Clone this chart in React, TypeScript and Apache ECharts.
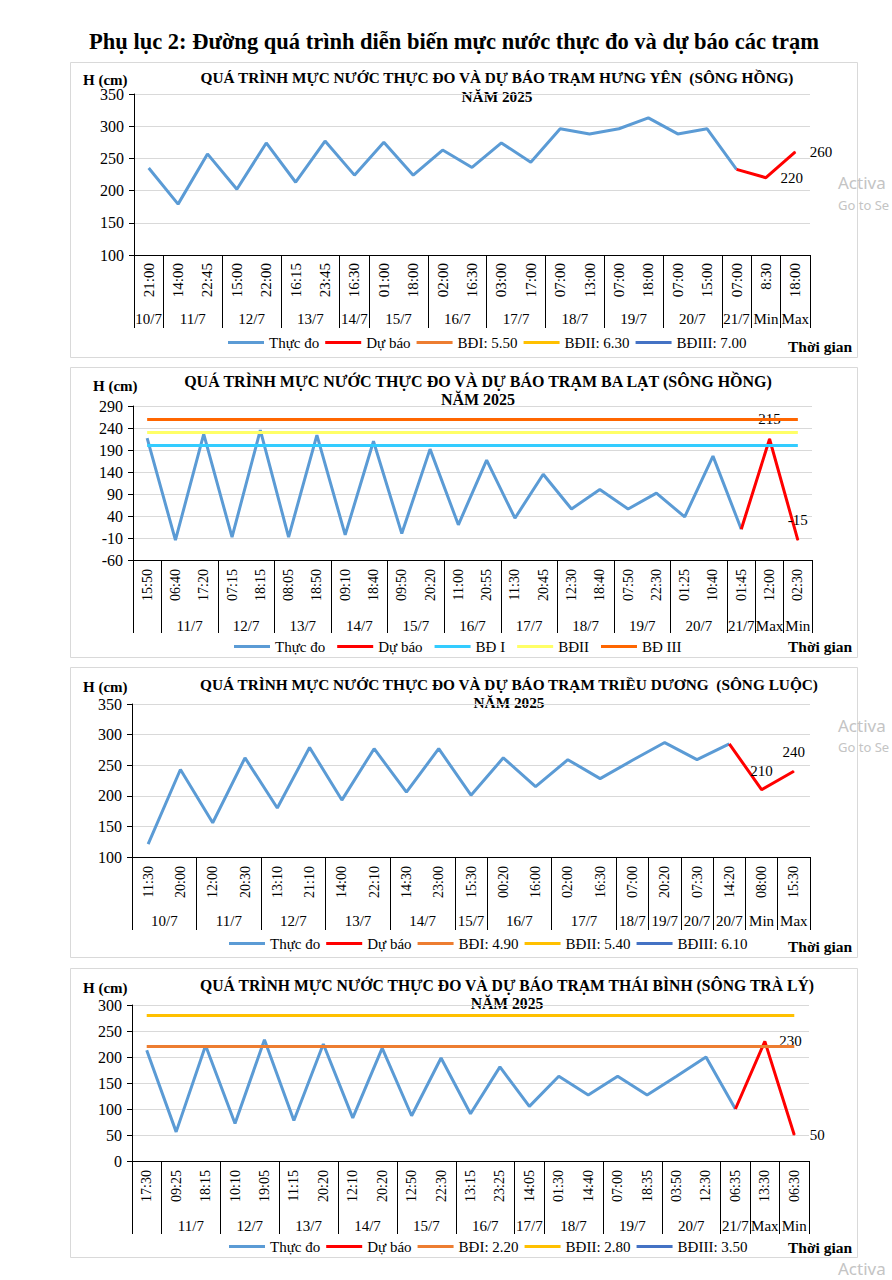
import React, { useEffect, useRef } from 'react';
import * as echarts from 'echarts';

const SERIF = '"Times New Roman", "Liberation Serif", "DejaVu Serif", serif';
const SANS = '"Noto Sans", "Open Sans", sans-serif';

const pageTitle = 'Phụ lục 2: Đường quá trình diễn biến mực nước thực đo và dự báo các trạm';
const yearLine = 'NĂM 2025';
const observedName = 'Thực đo';
const forecastName = 'Dự báo';
const yAxisTitle = 'H (cm)';
const xAxisTitle = 'Thời gian';

// ---------- Trạm Hưng Yên ----------
const hyTitle = 'QUÁ TRÌNH MỰC NƯỚC THỰC ĐO VÀ DỰ BÁO TRẠM HƯNG YÊN  (SÔNG HỒNG)';
const hyTimes = ['21:00', '14:00', '22:45', '15:00', '22:00', '16:15', '23:45', '16:30', '01:00', '18:00', '02:00', '16:30', '03:00', '17:00', '07:00', '13:00', '07:00', '18:00', '07:00', '15:00', '07:00', '8:30', '18:00'];
const hyGroupLabels = ['10/7', '11/7', '12/7', '13/7', '14/7', '15/7', '16/7', '17/7', '18/7', '19/7', '20/7', '21/7', 'Min', 'Max'];
const hyGroupSizes = [1, 2, 2, 2, 1, 2, 2, 2, 2, 2, 2, 1, 1, 1];
const hyObserved = [235, 179, 257, 202, 274, 213, 277, 224, 275, 224, 263, 236, 274, 244, 296, 288, 296, 313, 288, 296, 233];
const hyForecast = [220, 260];
const hyThresholdNames = ['BĐI: 5.50', 'BĐII: 6.30', 'BĐIII: 7.00'];
const hyThresholdValues = [550, 630, 700];
const hyYAxis = [100, 350, 50];

// ---------- Trạm Ba Lạt ----------
const blTitle = 'QUÁ TRÌNH MỰC NƯỚC THỰC ĐO VÀ DỰ BÁO TRẠM BA LẠT (SÔNG HỒNG)';
const blTimes = ['15:50', '06:40', '17:20', '07:15', '18:15', '08:05', '18:50', '09:10', '18:40', '09:50', '20:20', '11:00', '20:55', '11:30', '20:45', '12:30', '18:40', '07:50', '22:30', '01:25', '10:40', '01:45', '12:00', '02:30'];
const blGroupLabels = ['', '11/7', '12/7', '13/7', '14/7', '15/7', '16/7', '17/7', '18/7', '19/7', '20/7', '21/7', 'Max', 'Min'];
const blGroupSizes = [1, 2, 2, 2, 2, 2, 2, 2, 2, 2, 2, 1, 1, 1];
const blObserved = [217, -15, 226, -8, 235, -8, 224, -3, 210, 0, 192, 20, 167, 35, 135, 56, 100, 56, 92, 38, 176, 10];
const blForecast = [215, -15];
const blThresholdNames = ['BĐ I', 'BĐII', 'BĐ III'];
const blThresholdValues = [200, 230, 260];
const blYAxis = [-60, 290, 50];

// ---------- Trạm Triều Dương ----------
const tdTitle = 'QUÁ TRÌNH MỰC NƯỚC THỰC ĐO VÀ DỰ BÁO TRẠM TRIỀU DƯƠNG  (SÔNG LUỘC)';
const tdTimes = ['11:30', '20:00', '12:00', '20:30', '13:10', '21:10', '14:00', '22:10', '14:30', '23:00', '15:30', '00:20', '16:00', '02:00', '16:30', '07:00', '20:20', '07:30', '14:20', '08:00', '15:30'];
const tdGroupLabels = ['10/7', '11/7', '12/7', '13/7', '14/7', '15/7', '16/7', '17/7', '18/7', '19/7', '20/7', '20/7', 'Min', 'Max'];
const tdGroupSizes = [2, 2, 2, 2, 2, 1, 2, 2, 1, 1, 1, 1, 1, 1];
const tdObserved = [121, 243, 156, 262, 180, 279, 193, 277, 206, 277, 201, 262, 215, 259, 228, 258, 287, 259, 285];
const tdForecast = [210, 240];
const tdThresholdNames = ['BĐI: 4.90', 'BĐII: 5.40', 'BĐIII: 6.10'];
const tdThresholdValues = [490, 540, 610];
const tdYAxis = [100, 350, 50];

// ---------- Trạm Thái Bình ----------
const tbTitle = 'QUÁ TRÌNH MỰC NƯỚC THỰC ĐO VÀ DỰ BÁO TRẠM THÁI BÌNH (SÔNG TRÀ LÝ)';
const tbTimes = ['17:30', '09:25', '18:15', '10:10', '19:05', '11:15', '20:20', '12:10', '20:20', '12:50', '22:30', '13:15', '23:25', '14:05', '01:30', '14:40', '07:00', '18:35', '03:50', '12:30', '06:35', '13:30', '06:30'];
const tbGroupLabels = ['', '11/7', '12/7', '13/7', '14/7', '15/7', '16/7', '17/7', '18/7', '19/7', '20/7', '21/7', 'Max', 'Min'];
const tbGroupSizes = [1, 2, 2, 2, 2, 2, 2, 1, 2, 2, 2, 1, 1, 1];
const tbObserved = [213, 56, 222, 72, 233, 78, 225, 83, 217, 87, 198, 91, 181, 105, 163, 127, 163, 127, 163, 200, 100];
const tbForecast = [230, 50];
const tbThresholdNames = ['BĐI: 2.20', 'BĐII: 2.80', 'BĐIII: 3.50'];
const tbThresholdValues = [220, 280, 350];
const tbYAxis = [0, 300, 50];

const stations = [
  { title: hyTitle, times: hyTimes, groupLabels: hyGroupLabels, groupSizes: hyGroupSizes, observed: hyObserved, forecast: hyForecast, thresholdNames: hyThresholdNames, thresholdValues: hyThresholdValues, yAxis: hyYAxis },
  { title: blTitle, times: blTimes, groupLabels: blGroupLabels, groupSizes: blGroupSizes, observed: blObserved, forecast: blForecast, thresholdNames: blThresholdNames, thresholdValues: blThresholdValues, yAxis: blYAxis },
  { title: tdTitle, times: tdTimes, groupLabels: tdGroupLabels, groupSizes: tdGroupSizes, observed: tdObserved, forecast: tdForecast, thresholdNames: tdThresholdNames, thresholdValues: tdThresholdValues, yAxis: tdYAxis },
  { title: tbTitle, times: tbTimes, groupLabels: tbGroupLabels, groupSizes: tbGroupSizes, observed: tbObserved, forecast: tbForecast, thresholdNames: tbThresholdNames, thresholdValues: tbThresholdValues, yAxis: tbYAxis },
];

// ---------- styles & layout ----------
const OBS_COLOR = '#5B9BD5';
const FC_COLOR = '#FF0000';
const STD_TH_COLORS = ['#ED7D31', '#FFC000', '#4472C4'];
const BL_TH_COLORS = ['#33CCFF', '#FFFF66', '#FF6600'];

const layouts = [
  { box: [70, 62, 787, 295], grid: { left: 134, top: 94, width: 676, height: 161 }, titleX: 497, titleY: [77, 96], titleSize: 15.3, hcm: [83, 80], legendLeft: 228, legendTop: 335, legendGap: 6, tgY: 346, timeSize: 15, timeMargin: 8, groupMargin: 56, labelPos: ['right', 'right'], labelDist: [14, 14], thColors: STD_TH_COLORS },
  { box: [70, 367, 787, 290], grid: { left: 133, top: 406, width: 679, height: 154 }, titleX: 478, titleY: [381, 399], titleSize: 16, hcm: [93, 386], legendLeft: 234, legendTop: 639, legendGap: 12, tgY: 646, timeSize: 14, timeMargin: 9, groupMargin: 58, labelPos: ['top', 'top'], labelDist: [12, 12], thColors: BL_TH_COLORS },
  { box: [70, 667, 787, 290], grid: { left: 132, top: 704, width: 678, height: 153 }, titleX: 509, titleY: [684, 702], titleSize: 15.3, hcm: [83, 687], legendLeft: 229, legendTop: 936, legendGap: 6, tgY: 946, timeSize: 14, timeMargin: 9, groupMargin: 56, labelPos: ['top', 'top'], labelDist: [11, 11], thColors: STD_TH_COLORS },
  { box: [70, 968, 787, 289], grid: { left: 132, top: 1005, width: 677, height: 156 }, titleX: 507, titleY: [985, 1003], titleSize: 15.7, hcm: [83, 988], legendLeft: 229, legendTop: 1239, legendGap: 6, tgY: 1247, timeSize: 14, timeMargin: 9, groupMargin: 57, labelPos: ['right', 'right'], labelDist: [14, 15], thColors: STD_TH_COLORS },
];

const watermarks = [
  { text: 'Activa', x: 838, y: 182, size: 17 },
  { text: 'Go to Se', x: 838, y: 205, size: 13 },
  { text: 'Activa', x: 838, y: 725, size: 17 },
  { text: 'Go to Se', x: 838, y: 747, size: 13 },
  { text: 'Activa', x: 838, y: 1268, size: 17 },
];

function buildOption() {
  const grid: any[] = [];
  const xAxis: any[] = [];
  const yAxis: any[] = [];
  const series: any[] = [];
  const legend: any[] = [];
  const graphic: any[] = [];

  graphic.push({
    type: 'text', x: 454, y: 41,
    style: { text: pageTitle, fontFamily: SERIF, fontSize: 22.5, fontWeight: 'bold', fill: '#000', textAlign: 'center', textVerticalAlign: 'middle' },
  });
  watermarks.forEach((w) => graphic.push({
    type: 'text', x: w.x, y: w.y,
    style: { text: w.text, fontFamily: SANS, fontSize: w.size, fill: '#c4c4c4', textAlign: 'left', textVerticalAlign: 'middle' },
  }));

  stations.forEach((st, k) => {
    const L = layouts[k];
    const N = st.times.length;
    grid.push({ ...L.grid, containLabel: false });

    // panel border and texts
    graphic.push({ type: 'rect', shape: { x: L.box[0] + 0.5, y: L.box[1] + 0.5, width: L.box[2], height: L.box[3] }, style: { fill: 'none', stroke: '#D9D9D9', lineWidth: 1 }, z: -1 });
    graphic.push({ type: 'text', x: L.titleX, y: L.titleY[0], style: { text: st.title, fontFamily: SERIF, fontSize: L.titleSize, fontWeight: 'bold', fill: '#000', textAlign: 'center', textVerticalAlign: 'middle' } });
    graphic.push({ type: 'text', x: L.titleX, y: L.titleY[1], style: { text: yearLine, fontFamily: SERIF, fontSize: L.titleSize, fontWeight: 'bold', fill: '#000', textAlign: 'center', textVerticalAlign: 'middle' } });
    graphic.push({ type: 'text', x: L.hcm[0], y: L.hcm[1], style: { text: yAxisTitle, fontFamily: SERIF, fontSize: 15, fontWeight: 'bold', fill: '#000', textAlign: 'left', textVerticalAlign: 'middle' } });
    graphic.push({ type: 'text', x: 788, y: L.tgY, style: { text: xAxisTitle, fontFamily: SERIF, fontSize: 15.5, fontWeight: 'bold', fill: '#000', textAlign: 'left', textVerticalAlign: 'middle' } });

    // main (time) axis
    xAxis.push({
      type: 'category', gridIndex: k, position: 'bottom', data: st.times, boundaryGap: true,
      axisLine: { show: true, onZero: false, lineStyle: { color: '#000', width: 1 } },
      axisTick: { show: false },
      axisLabel: { interval: 0, rotate: 90, margin: L.timeMargin, fontFamily: SERIF, fontSize: L.timeSize, color: '#000' },
      splitLine: { show: false },
    });

    // group (date) axis on half-category positions
    const groupData: string[] = new Array(2 * N + 1).fill('');
    const bounds = new Set<number>([0]);
    const centers = new Set<number>();
    let start = 0;
    st.groupSizes.forEach((s, gi) => {
      const end = start + s;
      groupData[start + end] = st.groupLabels[gi];
      centers.add(start + end);
      bounds.add(2 * end);
      start = end;
    });
    xAxis.push({
      type: 'category', gridIndex: k, position: 'bottom', data: groupData, boundaryGap: false,
      axisLine: { show: false, onZero: false },
      axisTick: { show: true, length: 73, interval: (i: number) => bounds.has(i), lineStyle: { color: '#000', width: 1 } },
      axisLabel: { interval: (i: number) => centers.has(i), margin: L.groupMargin, fontFamily: SERIF, fontSize: 15, color: '#000' },
      splitLine: { show: false },
    });

    yAxis.push({
      type: 'value', gridIndex: k, min: st.yAxis[0], max: st.yAxis[1], interval: st.yAxis[2],
      axisLine: { show: true, lineStyle: { color: '#000', width: 1 } },
      axisTick: { show: true, length: 5, lineStyle: { color: '#000' } },
      axisLabel: { margin: 10, fontFamily: SERIF, fontSize: 16, color: '#000' },
      splitLine: { show: true, lineStyle: { color: '#D9D9D9', width: 1 } },
    });

    const xi = 2 * k;
    series.push({
      type: 'line', name: observedName, xAxisIndex: xi, yAxisIndex: k, data: st.observed,
      symbol: 'none', color: OBS_COLOR, itemStyle: { color: OBS_COLOR }, lineStyle: { color: OBS_COLOR, width: 3 }, silent: true,
    });

    const last = st.observed.length - 1;
    const fcData: any[] = st.observed.map((v, i) => (i === last ? v : null));
    st.forecast.forEach((v, j) => fcData.push({
      value: v, symbol: 'circle', symbolSize: 1,
      label: { show: true, position: L.labelPos[j], distance: L.labelDist[j], fontFamily: SERIF, fontSize: 15, color: '#000', formatter: '{c}' },
    }));
    series.push({
      type: 'line', name: forecastName, xAxisIndex: xi, yAxisIndex: k, data: fcData,
      symbol: 'none', color: FC_COLOR, itemStyle: { color: FC_COLOR }, lineStyle: { color: FC_COLOR, width: 3 }, silent: true,
    });

    st.thresholdNames.forEach((nm, j) => {
      const v = st.thresholdValues[j];
      const c = L.thColors[j];
      const inRange = v >= st.yAxis[0] && v <= st.yAxis[1];
      series.push({
        type: 'line', name: nm, xAxisIndex: xi, yAxisIndex: k, data: [],
        symbol: 'none', color: c, itemStyle: { color: c }, lineStyle: { color: c, width: 3 }, silent: true,
        markLine: inRange ? {
          silent: true, symbol: 'none', label: { show: false },
          lineStyle: { color: c, width: 3, type: 'solid' },
          data: [[{ xAxis: 0, yAxis: v }, { xAxis: N - 1, yAxis: v }]],
        } : undefined,
      });
    });

    legend.push({
      left: L.legendLeft, top: L.legendTop, orient: 'horizontal', padding: 0,
      itemGap: L.legendGap, itemWidth: 36, itemHeight: 3, icon: 'rect', selectedMode: false,
      textStyle: { fontFamily: SERIF, fontSize: 15, color: '#000' },
      data: [observedName, forecastName, ...st.thresholdNames],
    });
  });

  return { animation: false, backgroundColor: '#fff', grid, xAxis, yAxis, series, legend, graphic };
}

export default function App() {
  const ref = useRef<HTMLDivElement>(null);
  useEffect(() => {
    const chart = echarts.init(ref.current!, null, { renderer: 'svg' });
    chart.setOption(buildOption() as any);
    return () => chart.dispose();
  }, []);
  return <div ref={ref} style={{ position: 'absolute', left: 0, top: 0, width: 892, height: 1280, background: '#fff' }} />;
}
